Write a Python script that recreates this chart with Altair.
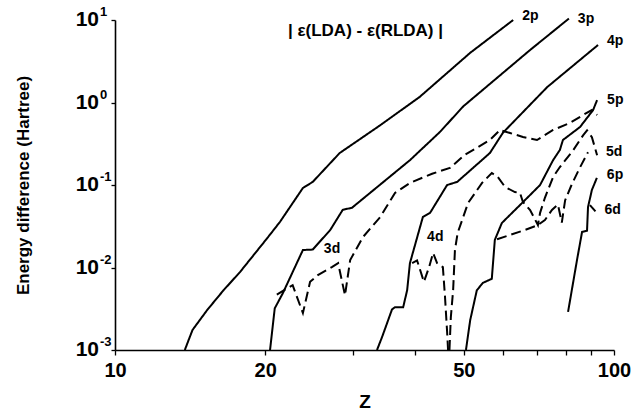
import altair as alt
import pandas as pd

FONT = "Liberation Sans"

# |eps(LDA) - eps(RLDA)| in Hartree versus nuclear charge Z, one list pair per orbital
z_2p = [13.8, 14.3, 15.3, 16.5, 17.8, 20.2, 21.4, 23.8, 24.9, 28.2, 34.0, 40.8, 51.5, 62.8]
e_2p = [0.001, 0.00175, 0.00305, 0.0053, 0.0088, 0.0228, 0.0356, 0.092, 0.109, 0.244, 0.53, 1.17, 4.0, 10.0]

z_3p = [20.45, 20.9, 21.7, 23.8, 24.9, 27.0, 28.6, 29.85, 39.0, 44.8, 49.9, 67.9, 81.2]
e_3p = [0.001, 0.0032, 0.0049, 0.0163, 0.0165, 0.0285, 0.050, 0.053, 0.20, 0.44, 0.9, 4.33, 10.4]

z_4p = [33.5, 34.3, 35.9, 36.4, 37.8, 38.5, 39.0, 41.4, 42.8, 46.3, 48.5, 56.4, 59.9, 73.5, 92.9]
e_4p = [0.001, 0.00144, 0.0031, 0.0033, 0.0033, 0.0053, 0.0113, 0.041, 0.046, 0.10, 0.109, 0.244, 0.43, 1.54, 4.98]

z_5p = [50.5, 51.5, 53.1, 54.6, 56.9, 57.7, 59.6, 61.3, 65.7, 71.1, 75.5, 77.9, 79.0, 85.5, 90.8, 92.5]
e_5p = [0.001, 0.0023, 0.0053, 0.0065, 0.0073, 0.0216, 0.0346, 0.041, 0.062, 0.10, 0.20, 0.266, 0.351, 0.505, 0.81, 1.07]

z_6p = [80.9, 84.3, 86.3, 88.3, 88.7, 90.3, 92.4]
e_6p = [0.0029, 0.0123, 0.027, 0.028, 0.054, 0.087, 0.122]

z_3d = [21.1, 22.7, 23.8, 24.6, 25.5, 27.2, 28.0, 28.9, 29.6, 31.4, 34.0, 36.4, 39.0, 43.2,
        46.9, 50.2, 56.4, 59.1, 61.9, 65.7, 70.1, 75.5, 81.6, 86.7, 90.3, 92.5]
e_3d = [0.0047, 0.0061, 0.0028, 0.0067, 0.0081, 0.0101, 0.0113, 0.0046, 0.0123, 0.0234, 0.0409,
        0.080, 0.106, 0.137, 0.161, 0.231, 0.351, 0.464, 0.427, 0.382, 0.351, 0.464, 0.565,
        0.705, 0.811, 0.705]

# 4d passes through zero near Z = 46.6, so it is drawn in two pieces
z_4d_a = [39.4, 40.3, 41.6, 42.6, 43.4, 44.2, 45.4, 45.85, 46.3, 46.5]
e_4d_a = [0.0113, 0.0122, 0.0067, 0.0101, 0.0150, 0.0113, 0.0101, 0.0044, 0.00165, 0.001]
z_4d_b = [46.8, 47.1, 47.6, 48.0, 48.6, 51.0, 54.4, 56.9, 58.5, 60.5, 63.3, 64.8, 65.7, 67.9,
          70.4, 71.1, 72.7, 75.5, 77.9, 82.7, 86.7, 88.3, 90.3, 92.5]
e_4d_b = [0.001, 0.0025, 0.0053, 0.0163, 0.0262, 0.0605, 0.106, 0.140, 0.125, 0.0946, 0.0822,
          0.080, 0.0622, 0.0498, 0.0327, 0.046, 0.07, 0.125, 0.165, 0.26, 0.40, 0.46, 0.38, 0.23]

z_5d = [58.3, 66.3, 70.4, 72.7, 75.1, 77.2, 78.6, 79.8, 82.2, 85.1, 88.7]
e_5d = [0.022, 0.0285, 0.0327, 0.0376, 0.0498, 0.058, 0.035, 0.065, 0.10, 0.155, 0.25]

z_6d = [89.5, 91.8]
e_6d = [0.057, 0.048]

series = [
    ("2p", "solid", z_2p, e_2p),
    ("3p", "solid", z_3p, e_3p),
    ("4p", "solid", z_4p, e_4p),
    ("5p", "solid", z_5p, e_5p),
    ("6p", "solid", z_6p, e_6p),
    ("3d", "dashed", z_3d, e_3d),
    ("4d_a", "dashed", z_4d_a, e_4d_a),
    ("4d_b", "dashed", z_4d_b, e_4d_b),
    ("5d", "dashed", z_5d, e_5d),
    ("6d", "dashed", z_6d, e_6d),
]

rows = []
for name, kind, zs, es in series:
    for z, e in zip(zs, es):
        rows.append({"segment": name, "kind": kind, "Z": z, "E": e})
df = pd.DataFrame(rows)

decades = [0.001, 0.01, 0.1, 1, 10]
exponents = ["-3", "-2", "-1", "0", "1"]

x_scale = alt.Scale(type="log", domain=[10, 100], nice=False)
y_scale = alt.Scale(type="log", domain=[0.001, 10], nice=False)

x_enc = alt.X(
    "Z:Q", scale=x_scale,
    axis=alt.Axis(
        values=[10, 20, 30, 40, 50, 60, 70, 80, 90, 100],
        labelExpr="indexof([10, 20, 50, 100], datum.value) >= 0 ? '' + datum.value : ''",
        labelFont=FONT, labelFontSize=20, labelFontWeight="bold", labelColor="black",
        labelPadding=5, labelFlush=False, labelOverlap=False,
        tickSize=5, tickColor="black", tickWidth=1.3,
        domainColor="black", domainWidth=1.6, grid=False,
        title="Z", titleFont=FONT, titleFontSize=19, titleFontWeight="bold", titleColor="black",
        titleX=249.5, titleY=51, titleAlign="center", titleBaseline="middle",
    ),
)
y_enc = alt.Y(
    "E:Q", scale=y_scale,
    axis=alt.Axis(
        values=decades, labels=False,
        tickSize=4, tickColor="black", tickWidth=1.3,
        domainColor="black", domainWidth=1.6, grid=False,
        title="Energy difference (Hartree)", titleFont=FONT, titleFontSize=17,
        titleFontWeight="bold", titleColor="black",
        titleX=-92, titleY=165, titleAngle=270, titleAlign="center", titleBaseline="middle",
    ),
)

lines = alt.Chart(df).mark_line(color="black", strokeWidth=2, strokeCap="butt").encode(
    x=x_enc,
    y=y_enc,
    detail="segment:N",
    strokeDash=alt.StrokeDash(
        "kind:N",
        scale=alt.Scale(domain=["solid", "dashed"], range=[[1, 0], [10, 5]]),
        legend=None,
    ),
)

# y tick labels written as 10 with a raised exponent
dec_df = pd.DataFrame({"E": decades, "base": ["10"] * 5, "exp": exponents})
base_text = alt.Chart(dec_df).mark_text(
    align="right", baseline="middle", font=FONT, fontSize=21, fontWeight="bold", color="black"
).encode(x=alt.value(-16), y=y_enc, text="base:N")
exp_text = alt.Chart(dec_df).mark_text(
    align="left", baseline="middle", dy=-8, font=FONT, fontSize=13, fontWeight="bold", color="black"
).encode(x=alt.value(-15), y=y_enc, text="exp:N")

# curve names, anchored to a point of each curve
label_specs = [
    ("2p", z_2p, e_2p, -1, 9, -4),
    ("3p", z_3p, e_3p, -1, 9, 0),
    ("4p", z_4p, e_4p, -1, 9, -4),
    ("5p", z_5p, e_5p, -1, 10, 0),
    ("5d", z_5d, e_5d, -1, 18, 0),
    ("6p", z_6p, e_6p, -1, 10, -3),
    ("6d", z_6d, e_6d, -1, 9, -1),
    ("3d", z_3d, e_3d, 5, -8, -18),
    ("4d", z_4d_a, e_4d_a, 4, -6, -16),
]
label_layers = []
for text, zs, es, idx, dx, dy in label_specs:
    ldf = pd.DataFrame({"Z": [zs[idx]], "E": [es[idx]], "label": [text]})
    label_layers.append(
        alt.Chart(ldf).mark_text(
            align="left", baseline="middle", dx=dx, dy=dy,
            font=FONT, fontSize=14, fontWeight="bold", color="black",
        ).encode(x=x_enc, y=y_enc, text="label:N")
    )

title_df = pd.DataFrame({"t": ["| ε(LDA) - ε(RLDA) |"]})
annotation = alt.Chart(title_df).mark_text(
    align="left", baseline="middle", font=FONT, fontSize=17, fontWeight="bold", color="black"
).encode(x=alt.value(173), y=alt.value(11), text="t:N")

chart = alt.layer(lines, base_text, exp_text, annotation, *label_layers).properties(
    width=499,
    height=330,
    padding={"left": 115, "top": 20, "right": 27, "bottom": 61},
    autosize=alt.AutoSizeParams(type="none"),
    background="white",
).configure_view(strokeWidth=0)

chart.save("out.html", embed_options={"renderer": "svg", "actions": False})
